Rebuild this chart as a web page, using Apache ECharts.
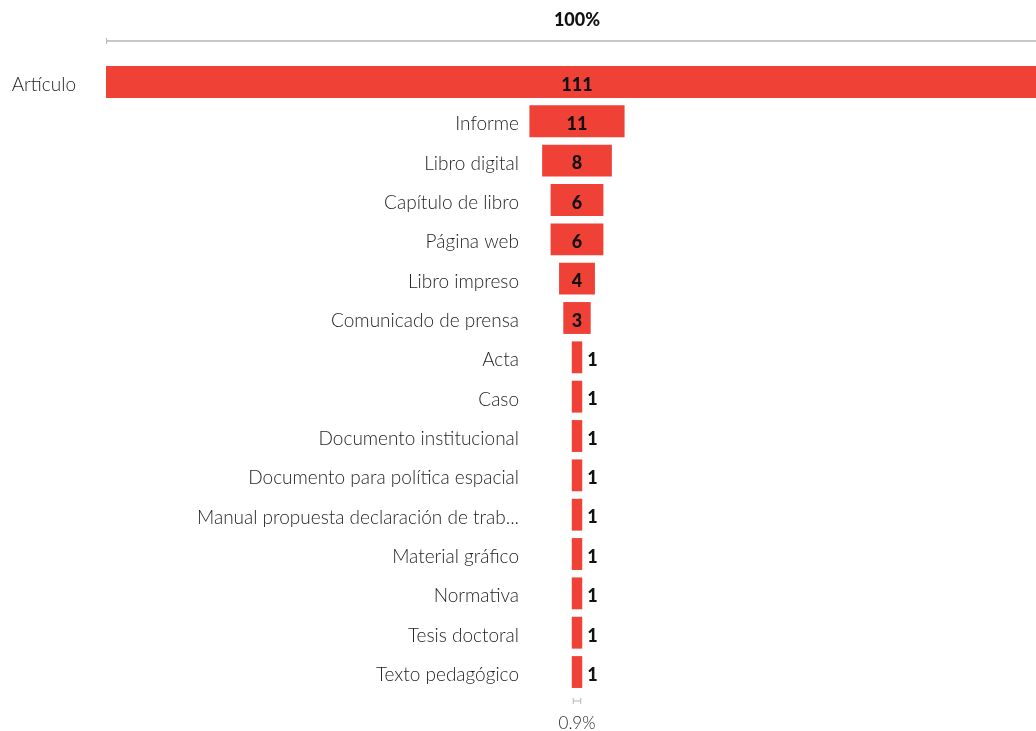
<!DOCTYPE html>
<html><head><meta charset="utf-8">
<script src="https://cdn.jsdelivr.net/npm/echarts@6/dist/echarts.min.js"></script>
<style>html,body{margin:0;padding:0;background:#fff}#c{width:1036px;height:731px}</style>
</head><body><div id="c"></div>
<script>
const categories = ['Artículo','Informe','Libro digital','Capítulo de libro','Página web','Libro impreso','Comunicado de prensa','Acta','Caso','Documento institucional','Documento para política espacial','Manual propuesta declaración de trab...','Material gráfico','Normativa','Tesis doctoral','Texto pedagógico'];
const values = [111,11,8,6,6,4,3,1,1,1,1,1,1,1,1,1];
const maxV = Math.max(...values);
const topLabel = (values[0] / maxV * 100).toFixed(0) + '%';
const bottomLabel = (values[values.length - 1] / maxV * 100).toFixed(1) + '%';

const RED = '#ef4136';
const GRAY = '#b5b5b5';
const FONT = 'Lato';

function renderItem(params, api) {
  const v = api.value(0), i = api.value(1);
  const l = api.coord([-v / 2, i]);
  const r = api.coord([v / 2, i]);
  const cx = (l[0] + r[0]) / 2;
  const cy = l[1];
  const h = api.size([0, 1])[1] * 0.81;
  const x0 = l[0] - 1, w = r[0] - l[0] + 2;
  const children = [{
    type: 'rect', shape: { x: x0, y: cy - h / 2, width: w, height: h },
    style: { fill: RED }
  }];
  const inside = w > 20;
  children.push({
    type: 'text',
    style: {
      text: String(v), x: inside ? cx : x0 + w + 5, y: cy + 3,
      align: inside ? 'center' : 'left', verticalAlign: 'middle',
      font: '900 18px ' + FONT, fill: '#111'
    }
  });
  let lx = cx - 58;
  if (x0 - 10 < lx) lx = x0 - 30;
  children.push({
    type: 'text',
    style: {
      text: categories[i], x: lx, y: cy + 3, align: 'right', verticalAlign: 'middle',
      font: '300 19px ' + FONT, fill: '#1e1e1e'
    }
  });
  if (params.dataIndex === 0) {
    const ly = cy - h / 2 - 25;
    children.push({ type: 'line', shape: { x1: x0, y1: ly, x2: x0 + w, y2: ly }, style: { stroke: GRAY, lineWidth: 1.5 } });
    children.push({ type: 'line', shape: { x1: x0 + 0.5, y1: ly - 3, x2: x0 + 0.5, y2: ly + 3 }, style: { stroke: GRAY, lineWidth: 1 } });
    children.push({ type: 'text', style: { text: topLabel, x: 577, y: ly - 21, align: 'center', verticalAlign: 'middle', font: '900 18px ' + FONT, fill: '#111' } });
  }
  if (params.dataIndex === values.length - 1) {
    const ly = cy + h / 2 + 13;
    const a = l[0] + 0.5, b = r[0] - 0.5;
    children.push({ type: 'line', shape: { x1: a, y1: ly, x2: b, y2: ly }, style: { stroke: GRAY, lineWidth: 1 } });
    children.push({ type: 'line', shape: { x1: a, y1: ly - 3, x2: a, y2: ly + 3 }, style: { stroke: GRAY, lineWidth: 1 } });
    children.push({ type: 'line', shape: { x1: b, y1: ly - 3, x2: b, y2: ly + 3 }, style: { stroke: GRAY, lineWidth: 1 } });
    children.push({ type: 'text', style: { text: bottomLabel, x: cx, y: ly + 23, align: 'center', verticalAlign: 'middle', font: '300 17px ' + FONT, fill: '#1e1e1e' } });
  }
  return { type: 'group', children };
}

const chart = echarts.init(document.getElementById('c'));
chart.setOption({
  animation: false,
  grid: { left: 107, right: -11, top: 62.3, bottom: 39.3, outerBoundsMode: 'none', containLabel: false },
  xAxis: { type: 'value', min: -maxV / 2, max: maxV / 2, show: false },
  yAxis: { type: 'category', data: categories, inverse: true, show: false },
  series: [{
    type: 'custom', renderItem, clip: false,
    encode: { x: 0, y: 1 },
    data: values.map((v, i) => [v, i])
  }]
});
</script></body></html>
